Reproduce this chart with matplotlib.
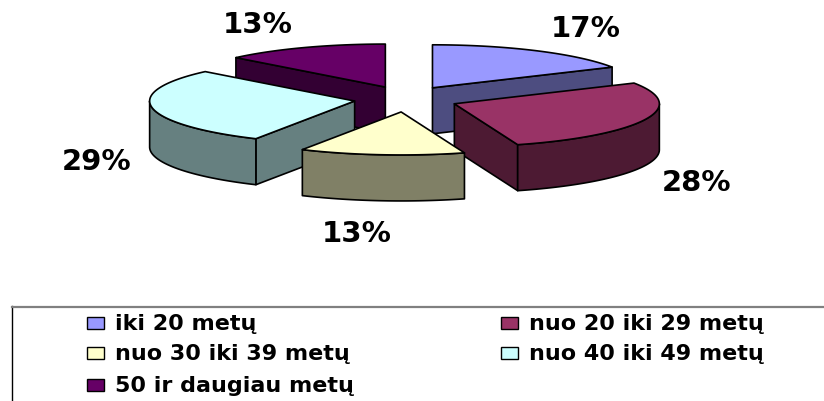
import numpy as np
import matplotlib.pyplot as plt
from matplotlib.patches import Polygon, Rectangle
from matplotlib.colors import to_rgb

# duomenys
labels = ['iki 20 metų', 'nuo 20 iki 29 metų', 'nuo 30 iki 39 metų',
          'nuo 40 iki 49 metų', '50 ir daugiau metų']
shares = [17, 28, 13, 29, 13]
colors = ['#9999FF', '#993366', '#FFFFCC', '#CCFFFF', '#660066']

# isdestymas (pikseliais)
W, H = 824, 402
CX, CY = 406, 100        # pyrago centras
RX, RY = 205, 43         # elipses pusasiai
DEPTH = 46               # storis
EX, EY = 52, 13          # isitraukimas (explode)
label_pos = [(586, 37), (697, 191), (357, 242), (97, 170), (258, 33)]
legend_rows = [324, 354, 386]
legend_cols = [87, 501]

fig = plt.figure(figsize=(W / 100, H / 100), dpi=100)
ax = fig.add_axes([0, 0, 1, 1])
ax.set_xlim(0, W)
ax.set_ylim(H, 0)
ax.axis('off')


def arc(ox, oy, a, b, dz=0, n=80):
    t = np.linspace(a, b, n)
    return np.column_stack([ox + RX * np.sin(t), oy - RY * np.cos(t) + dz])


def poly(pts, fc, z):
    ax.add_patch(Polygon(pts, closed=True, facecolor=fc, edgecolor='black',
                         linewidth=1.2, joinstyle='round', zorder=z))


edges = np.cumsum([0] + shares) / sum(shares) * 2 * np.pi
slices = []
for i in range(len(shares)):
    a, b = edges[i], edges[i + 1]
    m = (a + b) / 2
    ox = CX + EX * np.sin(m)
    oy = CY - EY * np.cos(m)
    slices.append((oy, i, a, b, ox))

# piesiam nuo galiniu iki priekiniu
z = 1
for oy, i, a, b, ox in sorted(slices):
    top = to_rgb(colors[i])
    side = tuple(c * 0.5 for c in top)
    apex = np.array([ox, oy])
    down = np.array([0, DEPTH])
    # soniniai pjuviai
    if np.sin(a) < -1e-9:
        p = arc(ox, oy, a, a, n=1)[0]
        poly([apex, p, p + down, apex + down], side, z)
        z += 1
    if np.sin(b) > 1e-9:
        p = arc(ox, oy, b, b, n=1)[0]
        poly([apex, p, p + down, apex + down], side, z)
        z += 1
    # isorine siena
    lo, hi = max(a, np.pi / 2), min(b, 3 * np.pi / 2)
    if lo < hi:
        upper = arc(ox, oy, lo, hi)
        lower = arc(ox, oy, lo, hi, dz=DEPTH)[::-1]
        poly(np.vstack([upper, lower]), side, z)
        z += 1
    # virsus
    poly(np.vstack([apex, arc(ox, oy, a, b)]), top, z)
    z += 1

for (x, y), v in zip(label_pos, shares):
    ax.text(x, y, f'{v}%', ha='center', va='baseline', fontsize=21,
            fontweight='bold', family='DejaVu Sans', zorder=50)

# legenda
ax.add_patch(Rectangle((12, 307), 830, 120, facecolor='white',
                       edgecolor='none', zorder=40))
ax.plot([12, 12], [307, 410], color='black', lw=1.0, zorder=41)
ax.plot([12, 830], [307.5, 307.5], color='#808080', lw=1.6, zorder=41)
for k, lab in enumerate(labels):
    row, col = divmod(k, 2)
    x0, yc = legend_cols[col], legend_rows[row]
    ax.add_patch(Rectangle((x0, yc - 6), 17, 12, facecolor=colors[k],
                           edgecolor='black', linewidth=1.0, zorder=42))
    ax.text(x0 + 28, yc + 6.5, lab, ha='left', va='baseline', fontsize=16,
            fontweight='bold', family='DejaVu Sans', zorder=42)

fig.savefig('out.png', dpi=100)
